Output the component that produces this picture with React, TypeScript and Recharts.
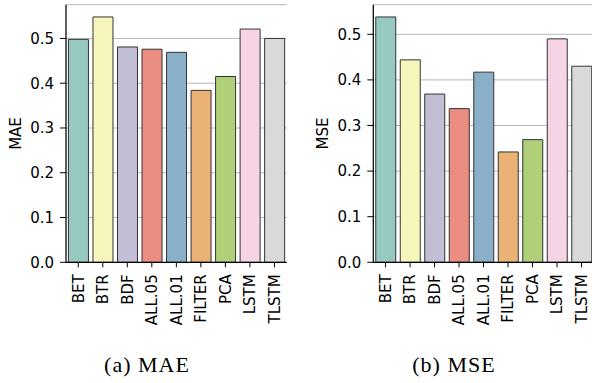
import React from 'react';
import { BarChart, Bar, XAxis, YAxis, CartesianGrid, Cell, Label } from 'recharts';

const categories = ['BET', 'BTR', 'BDF', 'ALL.05', 'ALL.01', 'FILTER', 'PCA', 'LSTM', 'TLSTM'];
const maeValues = [0.498, 0.548, 0.481, 0.476, 0.469, 0.384, 0.415, 0.521, 0.5];
const mseValues = [0.538, 0.444, 0.369, 0.337, 0.417, 0.242, 0.269, 0.49, 0.43];
const yTicks = [0, 0.1, 0.2, 0.3, 0.4, 0.5];
const barColors = ['#96cac1', '#f6f6bc', '#c1bed6', '#ea8e83', '#8aafc9', '#eab375', '#afcf78', '#f6d3e5', '#d9d9d9'];
const captions = ['(a) MAE', '(b) MSE'];

const FONT = "'DejaVu Sans', sans-serif";

const XTick = (props: any) => {
  const { x, y, payload } = props;
  return (
    <text
      x={0}
      y={0}
      transform={`translate(${x},${y}) rotate(-90)`}
      textAnchor="end"
      dy="0.36em"
      fontSize={15}
      fontFamily={FONT}
      fill="#000"
    >
      {payload.value}
    </text>
  );
};

type PanelProps = {
  values: number[];
  name: string;
  width: number;
  yAxisWidth: number;
  rightMargin: number;
  labelX: number;
};

const Panel = ({ values, name, width, yAxisWidth, rightMargin, labelX }: PanelProps) => {
  const data = categories.map((c, i) => ({ name: c, value: values[i] }));
  const yMax = Math.max(...values) * 1.05;
  return (
    <BarChart
      width={width}
      height={383}
      data={data}
      margin={{ top: 4.7, right: rightMargin, bottom: 10.7, left: 0 }}
      barCategoryGap="10%"
    >
      <CartesianGrid horizontal vertical={false} stroke="#b8b8b8" strokeWidth={1} />
      <XAxis
        dataKey="name"
        type="category"
        height={110}
        interval={0}
        tick={<XTick />}
        tickSize={5}
        tickMargin={7}
        axisLine={{ stroke: '#000', strokeWidth: 1.25 }}
        tickLine={{ stroke: '#000', strokeWidth: 1 }}
      />
      <XAxis
        xAxisId="top"
        dataKey="name"
        orientation="top"
        height={0}
        tick={false}
        tickLine={false}
        axisLine={{ stroke: '#000', strokeWidth: 1.25 }}
      />
      <YAxis
        type="number"
        domain={[0, yMax]}
        ticks={yTicks}
        width={yAxisWidth}
        tickFormatter={(v: number) => v.toFixed(1)}
        tick={{ fontSize: 15, fontFamily: FONT, fill: '#000' }}
        tickSize={6}
        tickMargin={6}
        axisLine={{ stroke: '#000', strokeWidth: 1.25 }}
        tickLine={{ stroke: '#000', strokeWidth: 1 }}
      >
        <Label
          content={(p: any) => {
            const vb = p.viewBox || {};
            const cy = (vb.y || 0) + (vb.height || 0) / 2;
            return (
              <text
                x={0}
                y={0}
                transform={`translate(${labelX},${cy}) rotate(-90)`}
                textAnchor="middle"
                dy="0.36em"
                fontSize={15}
                fontFamily={FONT}
                fill="#000"
              >
                {name}
              </text>
            );
          }}
        />
      </YAxis>
      <YAxis
        yAxisId="right"
        orientation="right"
        type="number"
        domain={[0, yMax]}
        width={0}
        tick={false}
        tickLine={false}
        axisLine={{ stroke: '#000', strokeWidth: 1.25 }}
      />
      <Bar dataKey="value" stroke="#333" strokeWidth={1} isAnimationActive={false}>
        {data.map((d, i) => (
          <Cell key={d.name} fill={barColors[i]} />
        ))}
      </Bar>
    </BarChart>
  );
};

export default function App() {
  return (
    <div
      style={{
        position: 'absolute',
        left: 0,
        top: 0,
        width: 592,
        height: 383,
        overflow: 'hidden',
        background: '#fff',
      }}
    >
      <div style={{ position: 'absolute', left: 0, top: 0 }}>
        <Panel values={maeValues} name="MAE" width={296} yAxisWidth={66} rightMargin={9.3} labelX={15.5} />
      </div>
      <div style={{ position: 'absolute', left: 296, top: 0 }}>
        <Panel values={mseValues} name="MSE" width={310} yAxisWidth={77.3} rightMargin={12.2} labelX={26.5} />
      </div>
      <svg width={592} height={383} style={{ position: 'absolute', left: 0, top: 0, pointerEvents: 'none' }}>
        <text x={147} y={372.3} textAnchor="middle" fontSize={22} fontFamily="'Liberation Serif', serif" letterSpacing={1} fill="#000">
          {captions[0]}
        </text>
        <text x={454} y={372.3} textAnchor="middle" fontSize={22} fontFamily="'Liberation Serif', serif" letterSpacing={1} fill="#000">
          {captions[1]}
        </text>
      </svg>
    </div>
  );
}
